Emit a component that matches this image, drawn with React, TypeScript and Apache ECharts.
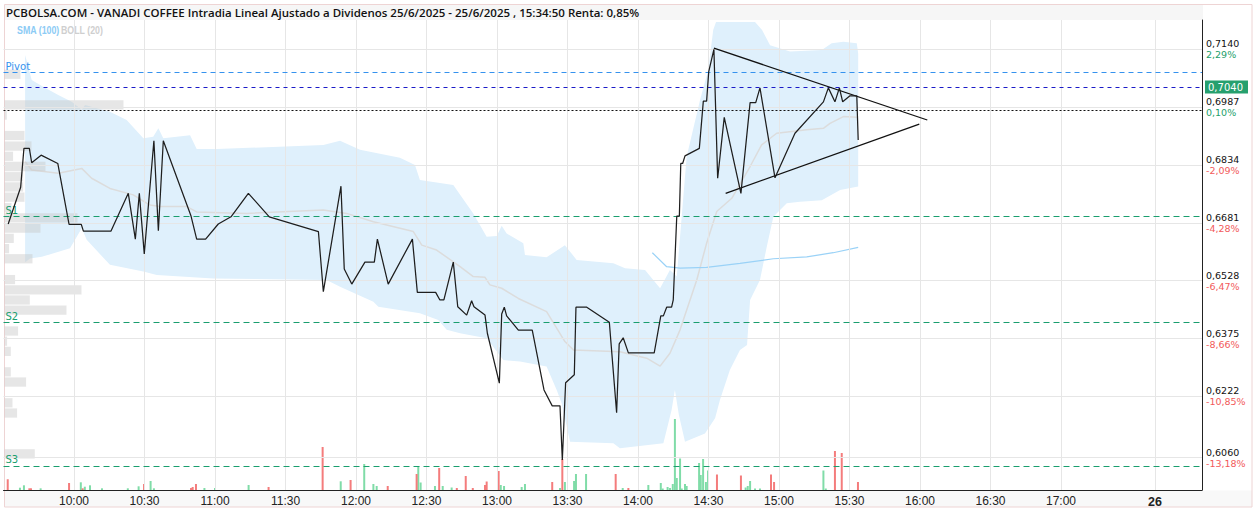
import React, { useEffect, useRef } from "react";
import * as echarts from "echarts";

const titleText =
  "PCBOLSA.COM - VANADI COFFEE Intradia Lineal Ajustado a Dividenos 25/6/2025 - 25/6/2025 , 15:34:50 Renta: 0,85%";

// x ticks
const xTickLabels = ["10:00", "10:30", "11:00", "11:30", "12:00", "12:30", "13:00", "13:30", "14:00", "14:30", "15:00", "15:30", "16:00", "16:30", "17:00"];
const dayLabel = "26";
const dayLabelTime = "17:40";

// y ticks
const yTickPrices = [0.714, 0.6987, 0.6834, 0.6681, 0.6528, 0.6375, 0.6222, 0.606];
const yTickPcts = ["2,29%", "0,10%", "-2,09%", "-4,28%", "-6,47%", "-8,66%", "-10,85%", "-13,18%"];

// levels
const pivotLevel = 0.7079;
const lastPrice = 0.704;
const prevClose = 0.698;
const supportLevels = [0.6699, 0.6418, 0.6038];
const supportNames = ["S1", "S2", "S3"];

// price line
const priceLine: [string, number][] = [
  ["09:32:00", 0.6678], ["09:37:18", 0.6775], ["09:38:42", 0.6878], ["09:41:00", 0.6878], ["09:42:00", 0.684],
  ["09:46:00", 0.686], ["09:53:06", 0.6838], ["09:57:54", 0.6677], ["10:03:06", 0.6677], ["10:04:00", 0.6659],
  ["10:15:42", 0.6659], ["10:23:06", 0.6759], ["10:26:06", 0.6638], ["10:27:48", 0.6759], ["10:29:54", 0.6599],
  ["10:34:00", 0.6898], ["10:35:54", 0.666], ["10:38:00", 0.6898], ["10:49:48", 0.6699], ["10:52:12", 0.6638],
  ["10:56:00", 0.6638], ["11:01:24", 0.6678], ["11:06:48", 0.6697], ["11:14:12", 0.6759], ["11:23:06", 0.6697],
  ["11:44:00", 0.6658], ["11:46:06", 0.6499], ["11:53:36", 0.6778], ["11:55:00", 0.6559], ["11:58:12", 0.6519],
  ["12:03:48", 0.6577], ["12:07:48", 0.6577], ["12:09:06", 0.6638], ["12:13:42", 0.6519], ["12:24:00", 0.6638],
  ["12:26:06", 0.6497], ["12:33:54", 0.6497], ["12:35:42", 0.6477], ["12:37:24", 0.6477], ["12:41:24", 0.6577],
  ["12:43:18", 0.6459], ["12:47:06", 0.6437], ["12:49:12", 0.6475], ["12:50:12", 0.6459], ["12:54:54", 0.6437],
  ["12:55:54", 0.6389], ["13:01:00", 0.6257], ["13:02:00", 0.644], ["13:03:06", 0.6458], ["13:04:06", 0.6435],
  ["13:09:06", 0.6397], ["13:15:00", 0.6397], ["13:20:00", 0.6239], ["13:23:30", 0.6197], ["13:26:48", 0.6197],
  ["13:27:48", 0.6054], ["13:29:12", 0.6258], ["13:32:54", 0.6279], ["13:33:36", 0.6458], ["13:38:12", 0.6458],
  ["13:47:48", 0.6418], ["13:50:54", 0.6179], ["13:52:00", 0.6361], ["13:53:42", 0.6377], ["13:55:54", 0.6337],
  ["14:06:54", 0.6337], ["14:09:42", 0.6435], ["14:10:48", 0.6435], ["14:12:12", 0.6458], ["14:14:18", 0.6458],
  ["14:15:00", 0.6477], ["14:16:30", 0.6699], ["14:17:36", 0.6699], ["14:18:12", 0.6838], ["14:19:00", 0.6838],
  ["14:20:00", 0.6858], ["14:26:06", 0.6878], ["14:27:48", 0.7003], ["14:29:12", 0.7003], ["14:30:06", 0.7081],
  ["14:32:18", 0.714], ["14:33:54", 0.6799], ["14:36:42", 0.696], ["14:43:48", 0.6759], ["14:47:42", 0.6999],
  ["14:50:06", 0.6999], ["14:51:54", 0.7038], ["14:58:18", 0.68], ["15:06:48", 0.6918], ["15:18:54", 0.7001],
  ["15:21:00", 0.7038], ["15:23:48", 0.7001], ["15:25:42", 0.7038], ["15:27:06", 0.7001], ["15:30:12", 0.7017],
  ["15:33:06", 0.7017], ["15:33:42", 0.69],
];

// Bollinger (20)
const bollUpper: [string, number][] = [
  ["09:39:12", 0.7125], ["09:42:00", 0.7059], ["09:46:54", 0.7041], ["09:53:18", 0.7019], ["09:59:00", 0.7001],
  ["10:03:18", 0.698], ["10:04:42", 0.6993], ["10:09:42", 0.6984], ["10:15:18", 0.6975], ["10:22:24", 0.6953],
  ["10:29:30", 0.6905], ["10:33:42", 0.6909], ["10:35:54", 0.6931], ["10:38:00", 0.6905], ["10:49:24", 0.6913],
  ["10:52:12", 0.6876], ["11:00:42", 0.6876], ["11:46:06", 0.6887], ["11:53:12", 0.6898], ["12:01:42", 0.6874],
  ["12:18:42", 0.6853], ["12:25:06", 0.6834], ["12:27:12", 0.6794], ["12:41:24", 0.6781], ["12:49:54", 0.6706],
  ["12:55:36", 0.6644], ["12:59:54", 0.6646], ["13:02:00", 0.6673], ["13:04:06", 0.6653], ["13:11:12", 0.6627],
  ["13:11:54", 0.6596], ["13:21:06", 0.659], ["13:28:54", 0.6622], ["13:33:54", 0.6583], ["13:49:30", 0.6574],
  ["13:54:30", 0.6561], ["14:03:00", 0.6556], ["14:09:24", 0.6508], ["14:13:36", 0.6556], ["14:16:30", 0.6539],
  ["14:20:42", 0.6856], ["14:26:24", 0.7006], ["14:29:54", 0.7085], ["14:32:00", 0.7191], ["14:33:12", 0.7212],
  ["14:49:48", 0.7212], ["14:52:48", 0.7191], ["14:56:12", 0.7151], ["15:04:42", 0.7134], ["15:18:12", 0.7138],
  ["15:22:24", 0.7156], ["15:27:24", 0.716], ["15:33:06", 0.7156], ["15:33:42", 0.7129],
];
const bollLower: [string, number][] = [
  ["09:39:12", 0.6577], ["09:41:18", 0.6587], ["09:46:18", 0.6591], ["09:58:18", 0.6614], ["10:03:18", 0.6667],
  ["10:05:24", 0.6636], ["10:15:18", 0.657], ["10:29:30", 0.6552], ["10:35:12", 0.6543], ["10:59:18", 0.6534],
  ["11:47:30", 0.653], ["11:53:12", 0.6512], ["12:07:24", 0.6472], ["12:09:30", 0.6459], ["12:27:12", 0.6442],
  ["12:35:00", 0.6424], ["12:38:36", 0.6398], ["12:44:18", 0.6389], ["12:55:36", 0.6376], ["13:02:42", 0.6318],
  ["13:09:48", 0.6314], ["13:21:06", 0.6301], ["13:25:24", 0.6239], ["13:27:30", 0.6204], ["13:29:42", 0.6142],
  ["13:31:06", 0.6102], ["13:49:30", 0.6098], ["13:52:18", 0.6085], ["14:10:48", 0.6098], ["14:14:18", 0.6186],
  ["14:15:42", 0.6239], ["14:17:24", 0.6173], ["14:20:00", 0.6102], ["14:28:30", 0.6124], ["14:32:48", 0.6164],
  ["14:34:54", 0.6213], ["14:39:06", 0.6292], ["14:43:24", 0.6345], ["14:46:24", 0.6358], ["14:47:42", 0.6477],
  ["14:51:54", 0.653], ["14:54:48", 0.6618], ["14:57:36", 0.6697], ["15:03:18", 0.6733], ["15:08:54", 0.6737],
  ["15:18:12", 0.6741], ["15:26:00", 0.6768], ["15:33:42", 0.6777],
];
const bollMiddle: [string, number][] = [
  ["09:39:12", 0.6843], ["09:42:00", 0.6821], ["09:53:18", 0.6812], ["10:03:18", 0.6825], ["10:07:30", 0.6799],
  ["10:15:18", 0.6772], ["10:25:12", 0.6755], ["10:32:18", 0.6728], ["10:36:36", 0.6724], ["10:48:00", 0.6724],
  ["10:52:12", 0.671], ["11:13:30", 0.6706], ["11:46:06", 0.6715], ["11:56:00", 0.6706], ["12:07:24", 0.6684],
  ["12:24:24", 0.6658], ["12:28:00", 0.6622], ["12:34:18", 0.6609], ["12:44:18", 0.6565], ["12:49:54", 0.6539],
  ["12:54:54", 0.6537], ["12:57:00", 0.6517], ["13:02:00", 0.6508], ["13:09:06", 0.6481], ["13:21:06", 0.6446],
  ["13:28:54", 0.6367], ["13:32:30", 0.6345], ["13:52:18", 0.634], ["14:03:42", 0.6323], ["14:09:24", 0.6302],
  ["14:13:36", 0.6336], ["14:17:54", 0.6398], ["14:25:00", 0.653], ["14:29:12", 0.6627], ["14:33:30", 0.6711],
  ["14:39:54", 0.6746], ["14:47:42", 0.683], ["14:52:36", 0.6887], ["14:59:00", 0.6918], ["15:11:48", 0.6927],
  ["15:18:54", 0.6931], ["15:21:42", 0.6944], ["15:27:24", 0.6962], ["15:33:06", 0.696],
];
// SMA (100)
const sma100: [string, number][] = [
  ["14:06:06", 0.6602], ["14:12:12", 0.6565], ["14:17:54", 0.6561], ["14:29:12", 0.6563], ["14:43:24", 0.6574],
  ["14:57:36", 0.6586], ["15:11:48", 0.6591], ["15:23:06", 0.6602], ["15:33:42", 0.6616],
];

// triangle trend lines
const trendUpper: [string, number][] = [["14:32:18", 0.7143], ["16:03:06", 0.6953]];
const trendLower: [string, number][] = [["14:37:18", 0.6759], ["15:59:42", 0.6942]];

// volume
const volumeUp: [string, number][] = [
  ["09:37:00", 2.3], ["09:38:42", 4.7], ["09:45:48", 1.7], ["10:02:54", 7.7], ["10:04:36", 3.3], ["10:06:48", 4.7],
  ["10:11:54", 1.7], ["10:22:54", 1.7], ["10:27:30", 3.7], ["10:32:36", 9], ["10:34:00", 1.7], ["10:55:30", 2],
  ["11:00:00", 2], ["11:14:18", 5], ["11:53:30", 8.7], ["12:03:30", 26], ["12:07:24", 6], ["12:08:48", 4],
  ["12:26:30", 24], ["12:27:30", 7.5], ["12:33:36", 4], ["12:36:54", 4], ["12:40:42", 2.5], ["13:01:36", 5],
  ["13:03:00", 4], ["13:10:30", 3], ["13:11:54", 6], ["13:26:48", 2], ["13:28:54", 8], ["13:32:48", 9],
  ["13:33:36", 16], ["13:37:54", 16], ["13:53:30", 2], ["14:04:24", 5], ["14:09:42", 7], ["14:10:30", 1.5],
  ["14:12:36", 3], ["14:13:36", 2], ["14:14:48", 6], ["14:15:42", 71], ["14:16:30", 12], ["14:17:54", 31.5],
  ["14:18:36", 1.5], ["14:20:00", 6], ["14:20:42", 4], ["14:26:00", 27], ["14:26:42", 15], ["14:27:42", 31],
  ["14:28:54", 8], ["14:29:48", 19.5], ["14:45:48", 2.5], ["14:46:42", 4], ["14:47:42", 9], ["14:49:48", 1.5],
  ["14:51:54", 1.5], ["15:18:54", 19.5], ["15:19:54", 1.5],
];
const volumeDown: [string, number][] = [
  ["09:31:48", 10.7], ["09:41:00", 1.7], ["09:41:42", 1.7], ["09:57:54", 7], ["10:03:42", 1.7], ["10:29:48", 6],
  ["10:49:48", 2], ["10:50:30", 3], ["10:51:54", 6], ["11:22:48", 3], ["11:45:48", 43], ["11:57:42", 10],
  ["12:13:30", 4], ["12:25:48", 16], ["12:35:24", 22], ["12:42:54", 2], ["12:46:42", 14], ["12:49:42", 2],
  ["12:54:54", 5], ["12:55:36", 8.5], ["13:00:42", 19], ["13:23:30", 8], ["13:27:48", 31], ["13:50:30", 16],
  ["13:55:54", 2], ["14:33:36", 15.5], ["14:43:48", 14.5], ["14:56:36", 15.5], ["14:57:54", 8], ["15:23:48", 39],
  ["15:26:42", 37], ["15:33:36", 8],
];

// volume profile by price
const profilePrices = [0.7074, 0.6993, 0.6966, 0.6912, 0.6884, 0.6857, 0.683, 0.6803, 0.6776, 0.6749, 0.6721, 0.6694, 0.6667, 0.664, 0.6613, 0.6586, 0.6531, 0.6504, 0.6477, 0.645, 0.6395, 0.6368, 0.6341, 0.6287, 0.626, 0.6205, 0.6178, 0.607];
const profileVolumes = [16, 119, 2.3, 20, 27, 8.6, 41, 18.6, 18.6, 20, 7, 73, 36, 9.3, 4.6, 28, 10.6, 77, 25.3, 62, 13.6, 2.6, 6.3, 6.3, 21.6, 8, 12.6, 30.3];
const profileStep = 0.002716;

const toMin = (s: string) => {
  const [h, m, sec] = s.split(":").map(Number);
  return h * 60 + m + (sec || 0) / 60;
};
const fmtTime = (v: number) => {
  const h = Math.floor(v / 60);
  const m = Math.round(v - h * 60);
  return `${h}:${m < 10 ? "0" + m : m}`;
};
const conv = (arr: [string, number][]) => arr.map(([t, v]) => [toMin(t), v]);

const X_MIN = 570;
const X_MAX = 1080;
const Y_MIN = 0.59744;
const Y_MAX = 0.72175;
const GRID_LEFT = 3.5;
const GRID_WIDTH = 1198.5;

const SANS = "'Liberation Sans', Arial, sans-serif";
const NARROW = "'Liberation Sans Narrow', 'Liberation Sans', Arial, sans-serif";
const DEJAVU = "'DejaVu Sans', Verdana, sans-serif";

export default function App() {
  const ref = useRef<HTMLDivElement>(null);
  useEffect(() => {
    if (!ref.current) return;
    const chart = echarts.init(ref.current, null, { renderer: "svg" });
    const xTickVals = xTickLabels.map((l) => toMin(l));
    const dayVal = toMin(dayLabelTime);
    const upper = conv(bollUpper);
    const lower = conv(bollLower);

    const levelLabel = (text: string, color: string) => ({
      show: true,
      position: "insideStartTop",
      formatter: text,
      color,
      fontFamily: DEJAVU,
      fontSize: 10,
      distance: [2, 1],
    });

    const option: any = {
      animation: false,
      backgroundColor: "#ffffff",
      textStyle: { fontFamily: SANS },
      grid: [
        { left: GRID_LEFT, width: GRID_WIDTH, top: 20, height: 470 },
        { left: GRID_LEFT, width: GRID_WIDTH, top: 390, height: 100 },
        { left: GRID_LEFT, width: GRID_WIDTH, top: 20, height: 470 },
      ],
      xAxis: [
        {
          gridIndex: 0,
          type: "value",
          min: X_MIN,
          max: X_MAX,
          axisLine: { show: true, onZero: false, lineStyle: { color: "#222", width: 1 } },
          axisTick: { show: false },
          splitLine: { show: false },
          axisLabel: {
            customValues: [...xTickVals, dayVal],
            formatter: (v: number) => (Math.abs(v - dayVal) < 0.01 ? `{d|${dayLabel}}` : fmtTime(v)),
            color: "#222",
            fontFamily: NARROW,
            fontSize: 12,
            margin: 5,
            rich: { d: { fontFamily: NARROW, fontSize: 12.5, fontWeight: "bold", color: "#222" } },
          },
        },
        { gridIndex: 1, type: "value", min: X_MIN, max: X_MAX, show: false },
        { gridIndex: 2, type: "value", min: 0, max: GRID_WIDTH, show: false },
      ],
      yAxis: [
        {
          gridIndex: 0,
          type: "value",
          position: "right",
          min: Y_MIN,
          max: Y_MAX,
          axisLine: { show: true, onZero: false, lineStyle: { color: "#222", width: 1 } },
          axisTick: { show: false },
          splitLine: { show: false },
          axisLabel: {
            customValues: yTickPrices,
            margin: 4,
            hideOverlap: false,
            formatter: (v: number) => {
              const i = yTickPrices.findIndex((p) => Math.abs(p - v) < 1e-6);
              const pct = i >= 0 ? yTickPcts[i] : "";
              const key = pct.startsWith("-") ? "r" : "g";
              return `{p|${v.toFixed(4).replace(".", ",")}}\n{${key}|${pct}}`;
            },
            rich: {
              p: { color: "#111", fontFamily: DEJAVU, fontSize: 9.5, lineHeight: 11 },
              g: { color: "#23a06a", fontFamily: DEJAVU, fontSize: 9.5, lineHeight: 11 },
              r: { color: "#f25a5a", fontFamily: DEJAVU, fontSize: 9.5, lineHeight: 11 },
            },
          },
        },
        { gridIndex: 1, type: "value", min: 0, max: 100, show: false },
        { gridIndex: 2, type: "value", min: Y_MIN, max: Y_MAX, show: false },
      ],
      graphic: [
        { type: "rect", z: -10, shape: { x: 4, y: 5, width: 1199, height: 15 }, style: { fill: "#f6f6f6" } },
        { type: "rect", z: -10, shape: { x: 4, y: 490.5, width: 1248, height: 16.5 }, style: { fill: "#f8f8f8" } },
        { type: "rect", z: -9, shape: { x: 4.5, y: 4.5, width: 1247.5, height: 502.5 }, style: { fill: "none", stroke: "#eed4d4", lineWidth: 1 } },
        {
          type: "text",
          x: 6,
          y: 12.5,
          style: { text: titleText, fill: "#111", font: "600 11.5px 'Open Sans', sans-serif", textVerticalAlign: "middle" },
        },
        {
          type: "text",
          x: 17,
          y: 30,
          scaleX: 0.84,
          style: { text: "SMA (100)", fill: "#8ccbf5", font: "bold 10.5px 'Liberation Sans', Arial, sans-serif", textVerticalAlign: "middle" },
        },
        {
          type: "text",
          x: 61,
          y: 30,
          scaleX: 0.84,
          style: { text: "BOLL (20)", fill: "#cfcfcf", font: "bold 10.5px 'Liberation Sans', Arial, sans-serif", textVerticalAlign: "middle" },
        },
      ],
      series: [
        {
          name: "band",
          type: "custom",
          xAxisIndex: 0,
          yAxisIndex: 0,
          z: 1,
          silent: true,
          data: [[upper[0][0], upper[0][1]]],
          renderItem: (params: any, api: any) => {
            if (params.dataIndex !== 0) return null;
            const pts = [
              ...upper.map((d) => api.coord(d)),
              ...lower.slice().reverse().map((d) => api.coord(d)),
            ];
            return { type: "polygon", shape: { points: pts }, style: { fill: "#dff0fc" } };
          },
        },
        {
          name: "grid",
          type: "line",
          xAxisIndex: 0,
          yAxisIndex: 0,
          z: 2,
          data: [],
          silent: true,
          markLine: {
            silent: true,
            precision: 6,
            symbol: ["none", "none"],
            label: { show: false },
            lineStyle: { color: "#e6e6e6", width: 1, type: "solid" },
            data: [...yTickPrices.map((p) => ({ yAxis: p })), ...[...xTickVals, dayVal].map((x) => ({ xAxis: x }))],
          },
        },
        {
          name: "BOLL mid",
          type: "line",
          xAxisIndex: 0,
          yAxisIndex: 0,
          z: 3,
          showSymbol: false,
          silent: true,
          lineStyle: { color: "#dcdcdc", width: 1.5 },
          data: conv(bollMiddle),
        },
        {
          name: "SMA (100)",
          type: "line",
          xAxisIndex: 0,
          yAxisIndex: 0,
          z: 3,
          showSymbol: false,
          silent: true,
          lineStyle: { color: "#9ad2f7", width: 1.2 },
          data: conv(sma100),
        },
        {
          name: "volUp",
          type: "bar",
          xAxisIndex: 1,
          yAxisIndex: 1,
          z: 3,
          barWidth: 2,
          barGap: "-100%",
          itemStyle: { color: "#80dca8" },
          data: conv(volumeUp),
        },
        {
          name: "volDown",
          type: "bar",
          xAxisIndex: 1,
          yAxisIndex: 1,
          z: 3,
          barWidth: 2,
          barGap: "-100%",
          itemStyle: { color: "#f47c7c" },
          data: conv(volumeDown),
        },
        {
          name: "profile",
          type: "custom",
          xAxisIndex: 2,
          yAxisIndex: 2,
          z: 4,
          silent: true,
          encode: { x: 0, y: 1 },
          data: profilePrices.map((p, i) => [profileVolumes[i], p]),
          renderItem: (params: any, api: any) => {
            const vol = api.value(0);
            const price = api.value(1);
            const a = api.coord([0, price + profileStep / 2]);
            const b = api.coord([vol, price - profileStep / 2]);
            return {
              type: "rect",
              shape: { x: a[0] + 1, y: a[1] + 0.5, width: b[0] - a[0], height: b[1] - a[1] - 1 },
              style: { fill: "rgba(200,200,200,0.45)" },
            };
          },
        },
        {
          name: "levels",
          type: "line",
          xAxisIndex: 0,
          yAxisIndex: 0,
          z: 5,
          data: [],
          silent: true,
          markLine: {
            silent: true,
            precision: 6,
            symbol: ["none", "none"],
            data: [
              {
                yAxis: pivotLevel,
                lineStyle: { color: "#3592ee", width: 1, type: [5, 4] },
                label: levelLabel("Pivot", "#3592ee"),
              },
              {
                yAxis: lastPrice,
                lineStyle: { color: "#1b1bc8", width: 1, type: [4, 4] },
                label: {
                  show: true,
                  position: "end",
                  formatter: lastPrice.toFixed(4).replace(".", ","),
                  color: "#fff",
                  backgroundColor: "#26a06e",
                  padding: [2, 5, 1, 3],
                  fontFamily: DEJAVU,
                  fontSize: 10,
                  distance: 3,
                },
              },
              {
                yAxis: prevClose,
                lineStyle: { color: "#111", width: 1, type: [2, 2] },
                label: { show: false },
              },
              ...supportLevels.map((s, i) => ({
                yAxis: s,
                lineStyle: { color: "#1a9e6e", width: 1, type: [6, 4] },
                label: levelLabel(supportNames[i], "#1a9e6e"),
              })),
            ],
          },
        },
        {
          name: "trendUpper",
          type: "line",
          xAxisIndex: 0,
          yAxisIndex: 0,
          z: 6,
          showSymbol: false,
          silent: true,
          lineStyle: { color: "#111", width: 1.3 },
          data: conv(trendUpper),
        },
        {
          name: "trendLower",
          type: "line",
          xAxisIndex: 0,
          yAxisIndex: 0,
          z: 6,
          showSymbol: false,
          silent: true,
          lineStyle: { color: "#111", width: 1.3 },
          data: conv(trendLower),
        },
        {
          name: "VANADI COFFEE",
          type: "line",
          xAxisIndex: 0,
          yAxisIndex: 0,
          z: 7,
          showSymbol: false,
          silent: true,
          lineStyle: { color: "#1e1e1e", width: 1.25 },
          data: conv(priceLine),
        },
      ],
    };
    chart.setOption(option);
    return () => chart.dispose();
  }, []);
  return (
    <div
      ref={ref}
      style={{ position: "fixed", left: 0, top: 0, width: 1257, height: 512 }}
    />
  );
}
